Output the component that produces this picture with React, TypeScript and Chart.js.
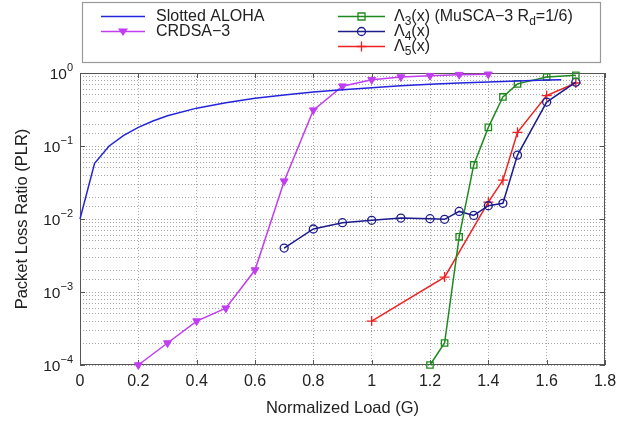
import React, { useEffect, useRef } from "react";
import { Chart, registerables } from "chart.js";

Chart.register(...registerables);

// ---- Data ----
const alohaG = [0, 0.05, 0.1, 0.15, 0.2, 0.25, 0.3, 0.4, 0.5, 0.6, 0.7, 0.8, 0.9, 1.0, 1.1, 1.2, 1.3, 1.4, 1.5, 1.6, 1.65];
const alohaPLR = [0.01, 0.058, 0.1, 0.14, 0.18, 0.22, 0.26, 0.33, 0.39, 0.45, 0.5, 0.55, 0.59, 0.63, 0.67, 0.7, 0.73, 0.75, 0.78, 0.8, 0.81];

const crdsaG = [0.2, 0.3, 0.4, 0.5, 0.6, 0.7, 0.8, 0.9, 1.0, 1.1, 1.2, 1.3, 1.4];
const crdsaPLR = [1e-4, 2e-4, 4e-4, 6e-4, 2e-3, 0.033, 0.31, 0.66, 0.81, 0.88, 0.92, 0.95, 0.96];

const l3G = [1.2, 1.25, 1.3, 1.35, 1.4, 1.45, 1.5, 1.6, 1.7];
const l3PLR = [1e-4, 2e-4, 5.7e-3, 0.055, 0.18, 0.47, 0.71, 0.88, 0.93];

const l4G = [0.7, 0.8, 0.9, 1.0, 1.1, 1.2, 1.25, 1.3, 1.35, 1.4, 1.45, 1.5, 1.6, 1.7];
const l4PLR = [4e-3, 7.3e-3, 8.9e-3, 9.6e-3, 0.0103, 0.0101, 0.0099, 0.0127, 0.0112, 0.0152, 0.0164, 0.075, 0.4, 0.75];

const l5G = [1.0, 1.25, 1.4, 1.45, 1.5, 1.6, 1.7];
const l5PLR = [4e-4, 1.6e-3, 0.017, 0.034, 0.154, 0.49, 0.73];

const xTicks = [0, 0.2, 0.4, 0.6, 0.8, 1, 1.2, 1.4, 1.6, 1.8];
const xTickLabels = ["0", "0.2", "0.4", "0.6", "0.8", "1", "1.2", "1.4", "1.6", "1.8"];
const yExponents = [0, -1, -2, -3, -4];

const C_ALOHA = "#2424dc";
const C_CRDSA = "#c23cf2";
const C_L3 = "#1f8a1f";
const C_L4 = "#1c1c8e";
const C_L5 = "#ee2222";

const FONT = "Liberation Sans, Arial, sans-serif";

const pts = (xs: number[], ys: number[]) => xs.map((x, i) => ({ x, y: ys[i] }));

type Part = { t: string; sub?: boolean; sup?: boolean };

function drawRich(ctx: CanvasRenderingContext2D, x: number, y: number, parts: Part[], size: number, align: "left" | "right" = "left") {
  const small = Math.round(size * 0.72);
  const widths = parts.map((p) => {
    ctx.font = `${p.sub || p.sup ? small : size}px ${FONT}`;
    return ctx.measureText(p.t).width;
  });
  const total = widths.reduce((a, b) => a + b, 0);
  let cx = align === "right" ? x - total : x;
  ctx.textBaseline = "middle";
  ctx.textAlign = "left";
  parts.forEach((p, i) => {
    ctx.font = `${p.sub || p.sup ? small : size}px ${FONT}`;
    let dy = 0;
    if (p.sub) dy = size * 0.35;
    if (p.sup) dy = -size * 0.45;
    ctx.fillText(p.t, cx, y + dy);
    cx += widths[i];
  });
}

function drawMarker(ctx: CanvasRenderingContext2D, kind: string, x: number, y: number, color: string) {
  ctx.save();
  ctx.strokeStyle = color;
  ctx.fillStyle = color;
  ctx.lineWidth = 1.3;
  ctx.beginPath();
  if (kind === "tri") {
    const r = 5;
    ctx.moveTo(x - r, y - r * 0.6);
    ctx.lineTo(x + r, y - r * 0.6);
    ctx.lineTo(x, y + r * 0.9);
    ctx.closePath();
    ctx.fill();
  } else if (kind === "rect") {
    ctx.rect(x - 3.5, y - 3.5, 7, 7);
    ctx.stroke();
  } else if (kind === "circle") {
    ctx.arc(x, y, 4, 0, Math.PI * 2);
    ctx.stroke();
  } else if (kind === "plus") {
    ctx.moveTo(x - 5, y);
    ctx.lineTo(x + 5, y);
    ctx.moveTo(x, y - 5);
    ctx.lineTo(x, y + 5);
    ctx.stroke();
  }
  ctx.restore();
}

const decorPlugin = {
  id: "decor",
  beforeDatasetsDraw(chart: any) {
    const { ctx, chartArea: a, scales } = chart;
    ctx.save();
    ctx.strokeStyle = "#555";
    ctx.lineWidth = 1;
    ctx.strokeRect(a.left + 0.5, a.top + 0.5, a.right - a.left - 1, a.bottom - a.top - 1);
    ctx.beginPath();
    xTicks.forEach((v) => {
      const px = Math.round(scales.x.getPixelForValue(v)) + 0.5;
      ctx.moveTo(px, a.bottom);
      ctx.lineTo(px, a.bottom - 5);
      ctx.moveTo(px, a.top);
      ctx.lineTo(px, a.top + 5);
    });
    yExponents.forEach((e) => {
      const py = Math.round(scales.y.getPixelForValue(Math.pow(10, e))) + 0.5;
      ctx.moveTo(a.left, py);
      ctx.lineTo(a.left + 5, py);
      ctx.moveTo(a.right, py);
      ctx.lineTo(a.right - 5, py);
    });
    ctx.stroke();
    ctx.restore();
  },
  afterDraw(chart: any) {
    const { ctx, chartArea: a, scales } = chart;
    ctx.save();
    ctx.fillStyle = "#222";
    ctx.font = `16px ${FONT}`;
    ctx.textAlign = "center";
    ctx.textBaseline = "middle";
    xTicks.forEach((v, i) => {
      ctx.fillText(xTickLabels[i], scales.x.getPixelForValue(v), a.bottom + 17);
    });
    yExponents.forEach((e) => {
      const py = scales.y.getPixelForValue(Math.pow(10, e));
      drawRich(ctx, a.left - 7, py + 2, [{ t: "10" }, { t: e < 0 ? "\u2212" + Math.abs(e) : String(e), sup: true }], 15.5, "right");
    });
    ctx.font = `16.5px ${FONT}`;
    ctx.textAlign = "center";
    ctx.textBaseline = "middle";
    ctx.fillText("Normalized Load (G)", (a.left + a.right) / 2, a.bottom + 43);
    ctx.save();
    ctx.translate(22, (a.top + a.bottom) / 2);
    ctx.rotate(-Math.PI / 2);
    ctx.fillText("Packet Loss Ratio (PLR)", 0, 0);
    ctx.restore();

    // legend box
    ctx.fillStyle = "#fff";
    ctx.fillRect(82, 2, 518, 60);
    ctx.strokeStyle = "#999";
    ctx.lineWidth = 1.2;
    ctx.strokeRect(82.5, 2.5, 518, 60);
    const entries = [
      { x1: 101, x2: 145, y: 16.5, tx: 156, color: C_ALOHA, marker: "", parts: [{ t: "Slotted ALOHA" }] as Part[] },
      { x1: 101, x2: 145, y: 31.5, tx: 156, color: C_CRDSA, marker: "tri", parts: [{ t: "CRDSA\u22123" }] as Part[] },
      {
        x1: 338, x2: 385, y: 16.5, tx: 394, color: C_L3, marker: "rect",
        parts: [{ t: "\u039B" }, { t: "3", sub: true }, { t: "(x) (MuSCA\u22123 R" }, { t: "d", sub: true }, { t: "=1/6)" }] as Part[],
      },
      { x1: 338, x2: 385, y: 31.5, tx: 394, color: C_L4, marker: "circle", parts: [{ t: "\u039B" }, { t: "4", sub: true }, { t: "(x)" }] as Part[] },
      { x1: 338, x2: 385, y: 46.5, tx: 394, color: C_L5, marker: "plus", parts: [{ t: "\u039B" }, { t: "5", sub: true }, { t: "(x)" }] as Part[] },
    ];
    entries.forEach((en) => {
      ctx.strokeStyle = en.color;
      ctx.lineWidth = 1.6;
      ctx.beginPath();
      ctx.moveTo(en.x1, en.y);
      ctx.lineTo(en.x2, en.y);
      ctx.stroke();
      if (en.marker) drawMarker(ctx, en.marker, (en.x1 + en.x2) / 2, en.y, en.color);
      ctx.fillStyle = "#222";
      drawRich(ctx, en.tx, en.y, en.parts, 16);
    });
    ctx.restore();
  },
};

export default function App() {
  const ref = useRef<HTMLCanvasElement | null>(null);

  useEffect(() => {
    if (!ref.current) return;
    const chart = new Chart(ref.current, {
      type: "line",
      data: {
        datasets: [
          {
            label: "Slotted ALOHA",
            data: pts(alohaG, alohaPLR),
            borderColor: C_ALOHA,
            borderWidth: 1.5,
            pointRadius: 0,
            tension: 0,
            clip: false,
          },
          {
            label: "CRDSA-3",
            data: pts(crdsaG, crdsaPLR),
            borderColor: C_CRDSA,
            backgroundColor: C_CRDSA,
            borderWidth: 1.5,
            pointStyle: "triangle",
            rotation: 180,
            pointRadius: 4.5,
            pointBorderWidth: 1,
            clip: false,
          },
          {
            label: "L3",
            data: pts(l3G, l3PLR),
            borderColor: C_L3,
            backgroundColor: "rgba(0,0,0,0)",
            borderWidth: 1.5,
            pointStyle: "rect",
            pointRadius: 4.5,
            pointBorderWidth: 1.3,
            clip: false,
          },
          {
            label: "L4",
            data: pts(l4G, l4PLR),
            borderColor: C_L4,
            backgroundColor: "rgba(0,0,0,0)",
            borderWidth: 1.5,
            pointStyle: "circle",
            pointRadius: 4,
            pointBorderWidth: 1.3,
            clip: false,
          },
          {
            label: "L5",
            data: pts(l5G, l5PLR),
            borderColor: C_L5,
            backgroundColor: C_L5,
            borderWidth: 1.5,
            pointStyle: "cross",
            pointRadius: 5,
            pointBorderWidth: 1.3,
            clip: false,
          },
        ],
      },
      options: {
        responsive: false,
        animation: false,
        events: [],
        layout: { padding: { top: 73, right: 34, left: 0, bottom: 0 } },
        plugins: { legend: { display: false }, tooltip: { enabled: false }, title: { display: false } },
        scales: {
          x: {
            type: "linear",
            min: 0,
            max: 1.8,
            ticks: { display: false, stepSize: 0.2 },
            grid: { color: "#a8a8a8", lineWidth: 1, drawTicks: false },
            border: { display: false, dash: [1, 2] },
            afterFit: (s: any) => {
              s.height = 56;
            },
          },
          y: {
            type: "logarithmic",
            min: 1e-4,
            max: 1,
            ticks: { display: false },
            grid: { color: "#a8a8a8", lineWidth: 1, drawTicks: false },
            border: { display: false, dash: [1, 2] },
            afterFit: (s: any) => {
              s.width = 80;
            },
          },
        },
      },
      plugins: [decorPlugin],
    } as any);
    return () => chart.destroy();
  }, []);

  return (
    <div style={{ position: "absolute", left: 0, top: 0, width: 639, height: 421, background: "#fff" }}>
      <canvas ref={ref} width={639} height={421} style={{ width: 639, height: 421 }} />
    </div>
  );
}
